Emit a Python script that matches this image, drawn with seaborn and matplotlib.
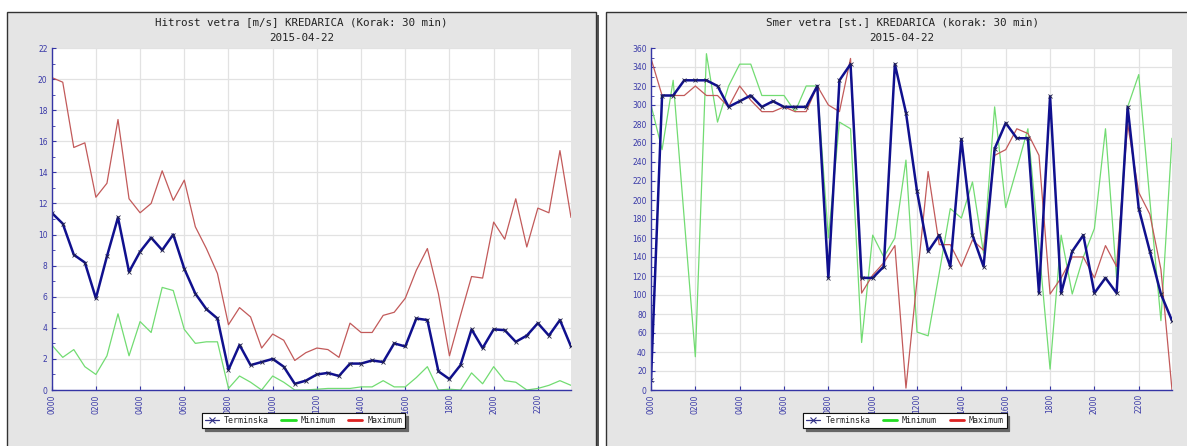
import numpy as np
import pandas as pd
import matplotlib
matplotlib.use("Agg")
import matplotlib.pyplot as plt
from matplotlib.patches import Rectangle
from matplotlib.lines import Line2D
from matplotlib.ticker import MultipleLocator
import seaborn as sns

# ---------------- data ----------------
hours = [i * 0.5 for i in range(48)]
xtick_pos = list(range(0, 24, 2))
xtick_labels = ["%02d00" % h for h in xtick_pos]

speed_term = [11.4, 10.7, 8.7, 8.2, 5.9, 8.6, 11.1, 7.6, 8.9, 9.8, 9.0, 10.0, 7.8, 6.2, 5.2, 4.6,
              1.3, 2.9, 1.6, 1.8, 2.0, 1.5, 0.4, 0.6, 1.0, 1.1, 0.9, 1.7, 1.7, 1.9, 1.8, 3.0,
              2.8, 4.6, 4.5, 1.2, 0.7, 1.6, 3.9, 2.7, 3.9, 3.85, 3.1, 3.5, 4.3, 3.5, 4.5, 2.8]
speed_min = [2.9, 2.1, 2.6, 1.5, 1.0, 2.2, 4.9, 2.2, 4.4, 3.7, 6.6, 6.4, 3.9, 3.0, 3.1, 3.1,
             0.1, 0.9, 0.5, 0.0, 0.9, 0.5, 0.0, 0.0, 0.05, 0.1, 0.1, 0.1, 0.2, 0.2, 0.6, 0.2,
             0.2, 0.8, 1.5, 0.0, 0.05, 0.0, 1.1, 0.4, 1.5, 0.6, 0.5, 0.0, 0.1, 0.3, 0.6, 0.3]
speed_max = [20.1, 19.8, 15.6, 15.9, 12.4, 13.3, 17.4, 12.3, 11.4, 12.0, 14.1, 12.2, 13.5, 10.5, 9.1, 7.5,
             4.2, 5.3, 4.7, 2.7, 3.6, 3.2, 1.9, 2.4, 2.7, 2.6, 2.1, 4.3, 3.7, 3.7, 4.8, 5.0,
             5.9, 7.7, 9.1, 6.2, 2.2, 4.8, 7.3, 7.2, 10.8, 9.7, 12.3, 9.2, 11.7, 11.4, 15.4, 11.1]

dir_term = [11, 310, 310, 326, 326, 326, 320, 298, 304, 310, 298, 304, 298, 298, 298, 320,
            118, 326, 343, 118, 118, 130, 343, 292, 209, 146, 163, 130, 264, 163, 130, 254,
            281, 265, 265, 102, 309, 102, 146, 163, 102, 118, 102, 298, 191, 146, 101, 73]
dir_min = [300, 253, 326, 180, 35, 354, 282, 320, 343, 343, 310, 310, 310, 293, 320, 320,
           160, 282, 275, 50, 163, 140, 160, 242, 61, 57, 123, 191, 181, 219, 144, 298,
           192, 233, 275, 150, 22, 163, 101, 140, 170, 275, 118, 298, 332, 200, 73, 265]
dir_max = [349, 310, 310, 310, 320, 310, 310, 298, 320, 305, 293, 293, 298, 293, 293, 320,
           300, 293, 349, 102, 121, 134, 152, 2, 116, 230, 153, 153, 130, 158, 147, 247,
           253, 275, 270, 247, 101, 118, 140, 140, 118, 152, 130, 280, 208, 185, 127, 0]

series_names = ["Terminska", "Minimum", "Maximum"]
title_left = ["Hitrost vetra [m/s] KREDARICA (Korak: 30 min)", "2015-04-22"]
title_right = ["Smer vetra [st.] KREDARICA (korak: 30 min)", "2015-04-22"]

# ---------------- style ----------------
sns.set_style("white")
plt.rcParams["font.family"] = ["DejaVu Sans"]

W, H = 1187, 446
fig = plt.figure(figsize=(W / 100, H / 100), dpi=100)
fig.patch.set_facecolor("white")


def fx(x):
    return x / W


def fy(y):
    return 1 - y / H


def panel(x0, y0, x1, y1):
    sh = Rectangle((fx(x0 + 3), fy(y1 + 10)), fx(x1 - x0), (y1 + 10 - y0 - 3) / H,
                   transform=fig.transFigure, facecolor="#555555", edgecolor="none", zorder=-3)
    fig.patches.append(sh)
    p = Rectangle((fx(x0), fy(y1 + 10)), fx(x1 - x0), (y1 + 10 - y0) / H,
                  transform=fig.transFigure, facecolor="#e5e5e5", edgecolor="#333333",
                  linewidth=1.0, zorder=-2)
    fig.patches.append(p)


panel(7, 12, 596, 446)
panel(606, 12, 1198, 446)

C_TERM = "#10108e"
C_MIN = "#72dc72"
C_MAX = "#c25a5a"
AX_COL = "#3535a5"
LBL_COL = "#3a3aa8"


def setup(ax, ymax, ymajor, yminor):
    ax.set_facecolor("white")
    ax.set_xlim(0, 23.5)
    ax.set_ylim(0, ymax)
    ax.set_xticks(xtick_pos)
    ax.set_xticklabels(xtick_labels, rotation=90, fontsize=5.5, color=LBL_COL)
    ax.yaxis.set_major_locator(MultipleLocator(ymajor))
    ax.yaxis.set_minor_locator(MultipleLocator(yminor))
    ax.tick_params(axis="y", which="major", direction="in", length=3, width=0.8,
                   color=AX_COL, labelsize=5.5, labelcolor=LBL_COL, pad=3, left=True)
    ax.tick_params(axis="y", which="minor", direction="in", length=2, width=0.6, color=AX_COL, left=True)
    ax.tick_params(axis="x", which="major", direction="in", length=3, width=0.8,
                   color=AX_COL, pad=3, bottom=True)
    ax.grid(True, which="major", color="#e2e2e2", linewidth=0.9)
    ax.set_axisbelow(True)
    for s in ["top", "right"]:
        ax.spines[s].set_visible(False)
    for s in ["left", "bottom"]:
        ax.spines[s].set_color(AX_COL)
        ax.spines[s].set_linewidth(1.0)
    ax.set_xlabel("")
    ax.set_ylabel("")


def draw(ax, term, mn, mx):
    sns.lineplot(x=hours, y=mn, ax=ax, color=C_MIN, linewidth=0.9, legend=False)
    sns.lineplot(x=hours, y=mx, ax=ax, color=C_MAX, linewidth=0.9, legend=False)
    sns.lineplot(x=hours, y=term, ax=ax, color=C_TERM, linewidth=1.8, legend=False,
                 marker="x", markersize=3, markeredgewidth=0.6, markeredgecolor="#222244")


axL = fig.add_axes([fx(51.7), fy(390), (571 - 51.7) / W, (390 - 48) / H])
axR = fig.add_axes([fx(651), fy(390), (1172 - 651) / W, (390 - 48) / H])

draw(axL, speed_term, speed_min, speed_max)
setup(axL, 22, 2, 1)
draw(axR, dir_term, dir_min, dir_max)
setup(axR, 360, 20, 10)

mono = "DejaVu Sans Mono"
for cx, lines in [(301.5, title_left), (902, title_right)]:
    fig.text(fx(cx), fy(22), lines[0], ha="center", va="center", fontsize=7.8,
             family=mono, color="#222222")
    fig.text(fx(cx), fy(37.6), lines[1], ha="center", va="center", fontsize=7.8,
             family=mono, color="#222222")

handles = [
    Line2D([], [], color="#333388", linewidth=0.9, marker="x", markersize=5, markeredgewidth=0.8),
    Line2D([], [], color="#22dd22", linewidth=2),
    Line2D([], [], color="#dd2222", linewidth=2),
]
for cx in [303.5, 905]:
    leg = fig.legend(handles, series_names, loc="center", bbox_to_anchor=(fx(cx), fy(420.8)),
                     ncol=3, frameon=True, fancybox=False, shadow={"color": "#666666", "alpha": 0.9},
                     edgecolor="#111111", facecolor="white", framealpha=1,
                     prop={"family": mono, "size": 6}, handlelength=1.7, handletextpad=0.6,
                     columnspacing=1.5, borderpad=0.35)
    leg.get_frame().set_linewidth(0.8)
    fig.add_artist(leg)

fig.savefig("out.png", dpi=100, facecolor="white")
